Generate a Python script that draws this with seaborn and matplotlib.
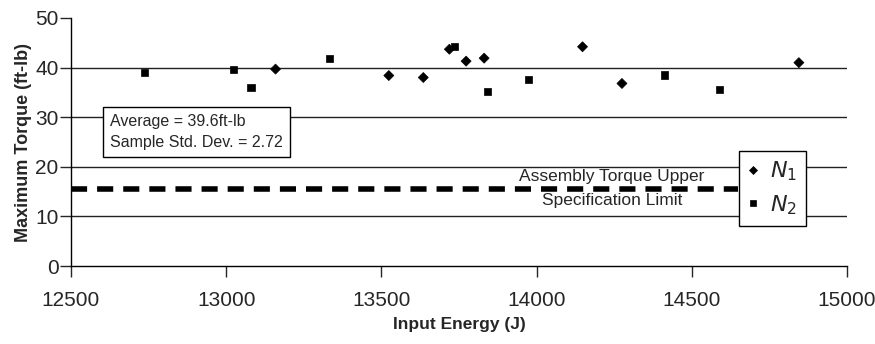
import numpy as np
import pandas as pd
import matplotlib
matplotlib.use('Agg')
import matplotlib.pyplot as plt
import seaborn as sns

# data
n1_energy = [13159, 13524, 13635, 13719, 13773, 13831, 14148, 14275, 14845]
n1_torque = [39.7, 38.4, 38.0, 43.7, 41.3, 41.9, 44.2, 36.8, 41.0]
n2_energy = [12736, 13025, 13080, 13334, 13736, 13842, 13973, 14413, 14589]
n2_torque = [39.1, 39.7, 36.0, 41.9, 44.2, 35.1, 37.6, 38.5, 35.5]

spec_limit = 15.5
spec_x = [12500, 14650]
x_ticks = [12500, 13000, 13500, 14000, 14500, 15000]
y_ticks = [0, 10, 20, 30, 40, 50]

df = pd.DataFrame({
    'energy': n1_energy + n2_energy,
    'torque': n1_torque + n2_torque,
    'series': ['N1'] * len(n1_energy) + ['N2'] * len(n2_energy),
})

sns.set_style('white')
plt.rcParams['font.family'] = ['Liberation Sans', 'DejaVu Sans']

fig = plt.figure(figsize=(8.75, 3.44), dpi=100)
ax = fig.add_axes([0.0811, 0.2267, 0.8869, 0.721])

# horizontal grid lines
for yv in y_ticks[1:-1]:
    ax.axhline(yv, color='#222222', lw=1.0, zorder=1)

# spec limit dashed line
ax.plot(spec_x, [spec_limit, spec_limit], color='black', lw=4,
        dashes=(2.9, 1.8), solid_capstyle='butt', dash_capstyle='butt', zorder=2)

sns.scatterplot(data=df, x='energy', y='torque', style='series',
                markers={'N1': 'D', 'N2': 's'}, color='black',
                s=26, edgecolor='black', linewidth=0.5, ax=ax, zorder=3)

ax.set_xlim(12500, 15000)
ax.set_ylim(0, 50)
ax.set_xticks(x_ticks)
ax.set_yticks(y_ticks)
ax.tick_params(axis='x', direction='out', length=8, width=1, labelsize=15,
               bottom=True, pad=10)
ax.tick_params(axis='y', direction='out', length=8, width=1, labelsize=15,
               left=True, pad=1)

for side in ['top', 'right']:
    ax.spines[side].set_visible(False)
for side in ['left', 'bottom']:
    ax.spines[side].set_color('black')
    ax.spines[side].set_linewidth(1.0)

ax.set_xlabel('Input Energy (J)', fontsize=12.5, fontweight='bold', labelpad=5)
ax.set_ylabel('Maximum Torque (ft-lb)', fontsize=13, fontweight='bold',
              labelpad=2)

# stats box
ax.text(12625, 27.0, 'Average = 39.6ft-lb\nSample Std. Dev. = 2.72',
        fontsize=11.5, linespacing=1.45, va='center', ha='left', zorder=5,
        bbox=dict(boxstyle='square,pad=0.45', fc='white', ec='black', lw=1))

ax.text(14243, 18.0, 'Assembly Torque Upper', fontsize=12.5, ha='center',
        va='center', zorder=5)
ax.text(14243, 13.3, 'Specification Limit', fontsize=12.5, ha='center',
        va='center', zorder=5)

handles, _ = ax.get_legend_handles_labels()
leg = ax.legend(handles[-2:], ['$N_1$', '$N_2$'], loc='upper left',
                bbox_to_anchor=(0.846, 0.51), fontsize=16, frameon=True,
                fancybox=False, edgecolor='black', framealpha=1,
                handlelength=0.5, handletextpad=0.5, borderpad=0.4,
                labelspacing=0.45, markerscale=0.8)
leg.get_frame().set_linewidth(1)
leg.set_zorder(6)

fig.savefig('out.png', dpi=100)
